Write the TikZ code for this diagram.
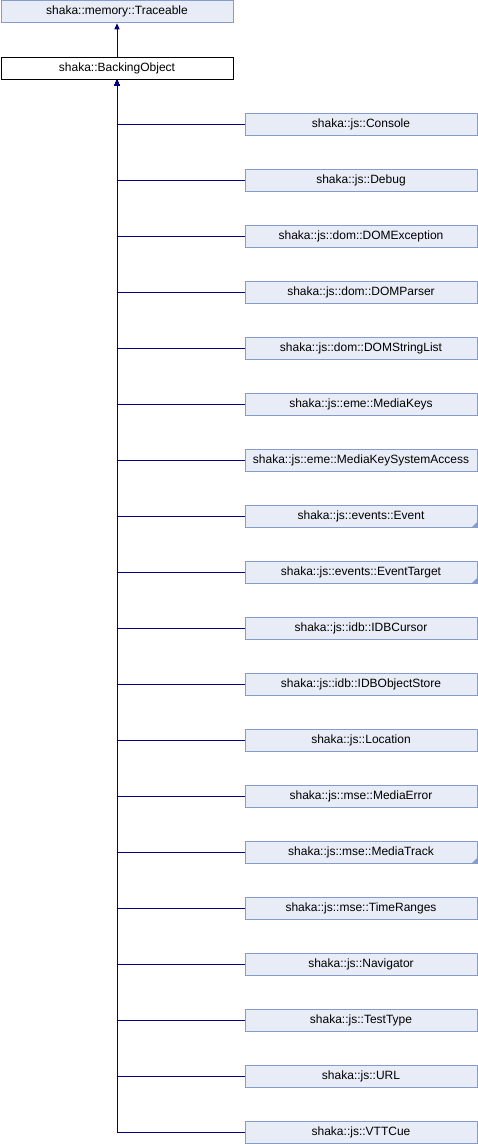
\documentclass[tikz,border=0pt]{standalone}
\usepackage{fontspec}
\setmainfont{Liberation Sans}
\usetikzlibrary{arrows.meta}
\definecolor{boxfill}{RGB}{232,236,246}
\definecolor{boxdraw}{RGB}{132,155,203}
\definecolor{edgecol}{RGB}{0,0,128}
\begin{document}
\begin{tikzpicture}[x=1pt,y=-1pt,
  cls/.style={draw=boxdraw,fill=boxfill,line width=1pt,minimum width=232pt,minimum height=22pt,inner sep=0pt,font=\fontsize{12}{14}\selectfont},
  cur/.style={draw=black,fill=white,line width=1pt,minimum width=232pt,minimum height=22pt,inner sep=0pt,font=\fontsize{12}{14}\selectfont},
  edge/.style={draw=edgecol,line width=1pt,{Triangle[length=6pt,width=5pt]}-},
  more/.style={fill=boxdraw}]
\useasboundingbox (0,0) rectangle (478,1144);
\node[cls] (tr) at (117,11.75) {shaka::memory::Traceable};
\node[cur] (bo) at (117,68) {shaka::BackingObject};
\draw[edge] (tr.south) -- (bo.north);
\foreach \i/\t in {1/shaka::js::Console,2/shaka::js::Debug,3/shaka::js::dom::DOMException,4/shaka::js::dom::DOMParser,5/shaka::js::dom::DOMStringList,6/shaka::js::eme::MediaKeys,7/shaka::js::eme::MediaKeySystemAccess,8/shaka::js::events::Event,9/shaka::js::events::EventTarget,10/shaka::js::idb::IDBCursor,11/shaka::js::idb::IDBObjectStore,12/shaka::js::Location,13/shaka::js::mse::MediaError,14/shaka::js::mse::MediaTrack,15/shaka::js::mse::TimeRanges,16/shaka::js::Navigator,17/shaka::js::TestType,18/shaka::js::URL,19/shaka::js::VTTCue}{
  \node[cls] (c\i) at (361,{124+56*(\i-1)}) {\t};
  \draw[edge] (bo.south) |- (c\i.west);
}
\foreach \i in {8,9,14}{
  \fill[more] ([xshift=-0.5pt,yshift=0.5pt]c\i.south east) -- ++(-5,0) -- ++(5,-5) -- cycle;
}
\end{tikzpicture}
\end{document}
